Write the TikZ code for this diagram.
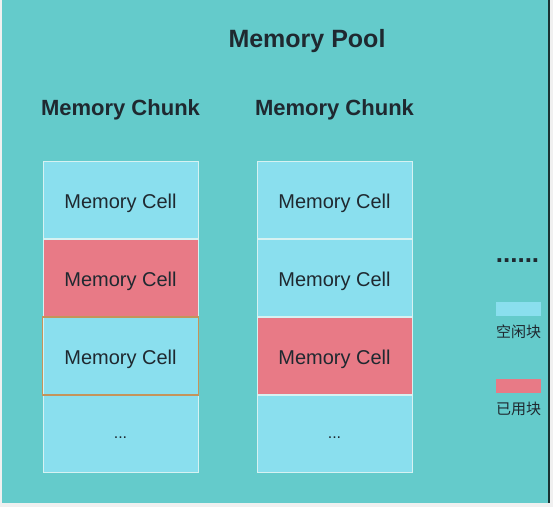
\documentclass[tikz,border=0pt]{standalone}
\usepackage{fontspec}
\setmainfont{Liberation Sans}
\newfontfamily\cjk{Noto Sans CJK SC}
\usepackage{xcolor}
\usetikzlibrary{positioning}

\definecolor{poolbg}{RGB}{100,203,203}
\definecolor{freecell}{RGB}{138,223,238}
\definecolor{usedcell}{RGB}{232,122,134}
\definecolor{celledge}{RGB}{214,242,242}
\definecolor{pickedge}{RGB}{196,148,90}
\definecolor{inktext}{RGB}{31,41,48}

\begin{document}
\begin{tikzpicture}[x=1pt, y=-1pt,
        cell/.style={rectangle, draw=celledge, line width=0.9pt, fill=freecell,
            minimum width=155pt, minimum height=77.2pt, inner sep=0pt,
            text height=18.4pt, text depth=2pt,
            font=\fontsize{20}{22}\selectfont, text=inktext},
        used/.style={cell, fill=usedcell},
        dots/.style={anchor=base, yshift=-4.5pt, font=\fontsize{16}{18}\selectfont, text=inktext},
        head/.style={font=\bfseries\fontsize{22}{24}\selectfont, text=inktext},
        key/.style={rectangle, minimum width=45pt, minimum height=14pt, inner sep=0pt},
        keylab/.style={font=\cjk\fontsize{15}{17}\selectfont, text=inktext}
    ]
    \useasboundingbox (0,0) rectangle (553,507);
    \fill[white!94!black] (0,0) rectangle (553,507);
    \fill[poolbg] (2,0) rectangle (548,503);
    \fill[black!75!poolbg] (547.5,0) rectangle (549.5,503);

    \node[head, font=\bfseries\fontsize{25}{27}\selectfont] (pool) at (307,41.5) {Memory Pool};
    \node[head] (chunkA) at (120.5,110) {Memory Chunk};
    \node[head] (chunkB) at (334.5,110) {Memory Chunk};

    % first chunk
    \node[cell] (a1) at (120.5,200) {Memory Cell};
    \node[used, below=0pt of a1] (a2) {Memory Cell};
    \node[cell, below=0pt of a2] (a3) {Memory Cell};
    \node[cell, below=0pt of a3] (a4) {};
    \node[dots] (a4dots) at (a4.center) {...};
    \draw[pickedge, line width=1.8pt] (a3.north west) rectangle (a3.south east);

    % second chunk
    \node[cell] (b1) at (334.5,200) {Memory Cell};
    \node[cell, below=0pt of b1] (b2) {Memory Cell};
    \node[used, below=0pt of b2] (b3) {Memory Cell};
    \node[cell, below=0pt of b3] (b4) {};
    \node[dots] (b4dots) at (b4.center) {...};

    % legend
    \node[font=\bfseries\fontsize{26}{28}\selectfont, text=inktext] (more) at (517.5,261) {......};
    \node[key, fill=freecell] (freekey) at (518.5,309) {};
    \node[keylab, below=5pt of freekey] (freelab) {空闲块};
    \node[key, fill=usedcell] (usedkey) at (518.5,386) {};
    \node[keylab, below=5pt of usedkey] (usedlab) {已用块};
\end{tikzpicture}
\end{document}
